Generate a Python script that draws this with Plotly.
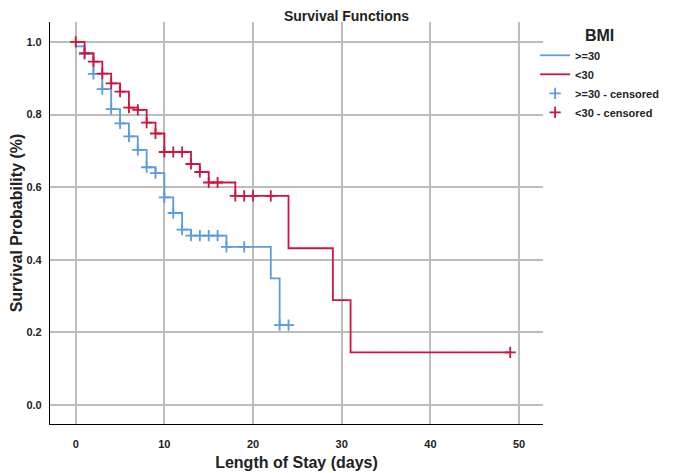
import plotly.graph_objects as go

# Data (Kaplan-Meier estimates)
blue_times = [0, 1, 2, 3, 4, 5, 6, 7, 8, 9, 10, 11, 12, 13, 17, 22, 23]
blue_surv = [0.988, 0.967, 0.912, 0.870, 0.815, 0.776, 0.740, 0.703, 0.655,
             0.639, 0.572, 0.529, 0.483, 0.467, 0.436, 0.349, 0.220]
blue_end = 24
blue_censored = [1, 2, 3, 4, 5, 6, 7, 8, 9, 10, 11, 12, 13, 14, 15, 16, 17, 19, 23, 24]

red_times = [0, 1, 2, 3, 4, 5, 6, 7, 8, 9, 10, 13, 14, 15, 18, 24, 29, 31]
red_surv = [1.0, 0.969, 0.946, 0.913, 0.886, 0.863, 0.819, 0.813, 0.778, 0.748,
            0.697, 0.664, 0.642, 0.613, 0.576, 0.432, 0.289, 0.145]
red_end = 49
red_censored = [0, 1, 2, 3, 4, 5, 6, 7, 8, 9, 10, 11, 12, 13, 14, 15, 16, 18, 19, 20, 22, 49]

x_ticks = [0, 10, 20, 30, 40, 50]
y_ticks = [0.0, 0.2, 0.4, 0.6, 0.8, 1.0]

BLUE = "#5b9be0"
RED = "#d0143f"
FONT = "Liberation Sans, Arial, sans-serif"


def step_value(times, surv, t):
    v = surv[0]
    for ti, si in zip(times, surv):
        if ti <= t:
            v = si
    return v


fig = go.Figure()

fig.add_trace(go.Scatter(
    x=blue_times + [blue_end], y=blue_surv + [blue_surv[-1]],
    mode="lines", line=dict(color=BLUE, width=1.8, shape="hv"),
    name=">=30"))
fig.add_trace(go.Scatter(
    x=red_times + [red_end], y=red_surv + [red_surv[-1]],
    mode="lines", line=dict(color=RED, width=1.8, shape="hv"),
    name="<30"))
fig.add_trace(go.Scatter(
    x=blue_censored, y=[step_value(blue_times, blue_surv, t) for t in blue_censored],
    mode="markers",
    marker=dict(symbol="cross-thin", size=8, line=dict(color=BLUE, width=1.8)),
    name=">=30 - censored"))
fig.add_trace(go.Scatter(
    x=red_censored, y=[step_value(red_times, red_surv, t) for t in red_censored],
    mode="markers",
    marker=dict(symbol="cross-thin", size=8, line=dict(color=RED, width=1.8)),
    name="<30 - censored"))

fig.update_layout(
    width=677, height=465,
    margin=dict(l=42, r=142, t=14, b=49),
    paper_bgcolor="white", plot_bgcolor="white",
    font=dict(family=FONT, size=11, color="#222222"),
    title=dict(text="Survival Functions", x=0.5, xref="container", y=0.994,
               yanchor="top", pad=dict(t=0),
               font=dict(family=FONT, size=14, color="#222222", weight="bold")),
    legend=dict(
        x=0.984, y=1.005, xanchor="left", yanchor="top",
        bgcolor="rgba(0,0,0,0)",
        title=dict(text="BMI", side="top center",
                   font=dict(family=FONT, size=16, weight="bold", color="#222222")),
        font=dict(family=FONT, size=11, weight="bold", color="#222222"),
        itemwidth=30, tracegroupgap=0,
    ),
    showlegend=True,
)

fig.update_xaxes(
    range=[-2.9, 52.7], tickvals=x_ticks, ticktext=[str(v) for v in x_ticks],
    showgrid=True, gridcolor="#bdbdbd", gridwidth=1.5,
    zeroline=False, showline=True, linecolor="black", linewidth=1.2,
    ticks="", ticklabelstandoff=10, automargin=False,
    tickfont=dict(family=FONT, size=11, weight="bold", color="#222222"),
    title=dict(text="Length of Stay (days)", standoff=7,
               font=dict(family=FONT, size=16, weight="bold", color="#222222")),
)
fig.update_yaxes(
    range=[-0.052, 1.055], tickvals=y_ticks, tickformat=".1f",
    showgrid=True, gridcolor="#bdbdbd", gridwidth=1.5,
    zeroline=False, showline=True, linecolor="black", linewidth=1.2,
    ticks="", ticklabelstandoff=5, automargin=False,
    tickfont=dict(family=FONT, size=11, weight="bold", color="#222222"),
    title=dict(text="Survival Probability (%)", standoff=0,
               font=dict(family=FONT, size=16, weight="bold", color="#222222")),
)

fig.write_html("out.html")
